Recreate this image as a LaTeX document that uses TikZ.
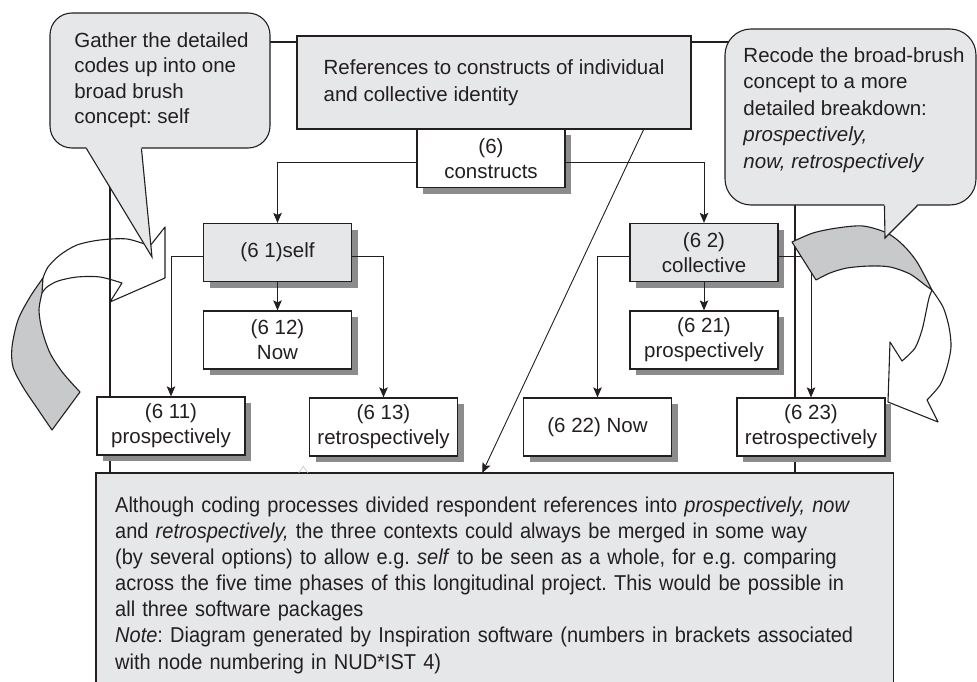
\documentclass[tikz,border=0pt]{standalone}
\usepackage{fontspec}
\setmainfont{Liberation Sans}
\newfontfamily\condsans[FakeStretch=0.93]{Liberation Sans}
\usetikzlibrary{arrows.meta}
\frenchspacing
\definecolor{ink}{HTML}{231F20}
\definecolor{panel}{HTML}{E6E7E8}
\definecolor{ribbon}{HTML}{C8C9CB}
\tikzset{
  txt/.style={font=\fontsize{20.5}{25}\selectfont, text=ink},
  codebox/.style={txt, draw=ink, line width=1.2pt, fill=white, minimum width=148pt,
    minimum height=58pt, inner sep=0pt, align=center},
  graybox/.style={codebox, fill=panel},
  dropfill/.style={fill=black!45},
  link/.style={draw=ink, line width=1pt, -{Stealth[length=10pt,width=8.5pt,inset=2pt]}},
  frameline/.style={draw=ink, line width=1.1pt},
  bubble/.style={draw=ink, line width=1.1pt, fill=panel, inner sep=0pt},
  bubbletext/.style={txt, align=left, inner sep=0pt},
  ribbonback/.style={draw=ink, line width=1.1pt, fill=ribbon, line join=round},
  ribbonfront/.style={draw=ink, line width=1.1pt, line join=round},
}
\begin{document}
\begin{tikzpicture}[x=1pt,y=-1pt]
\clip (0,0) rectangle (977,682);

% frame round the whole tree
\draw[frameline] (110,42) rectangle (795,473);

% cast shadows of the tree boxes (box outline moved 6 right and 6 down)
\foreach \cx/\cy in {491/158.5, 277.5/252.5, 277.5/340, 171/426, 383.5/427, 704/252.5, 704/340, 597.5/427, 811/427}
  \path[dropfill] (\cx-68,\cy-23) rectangle (\cx+80,\cy+35);

% heading box
\node[txt, draw=ink, line width=1.2pt, fill=panel, minimum width=394pt, minimum height=93pt,
  inner sep=0pt, align=left, font=\fontsize{20.5}{27}\selectfont] (main) at (494,82.5)
  {References to constructs of individual\\and collective identity};

% coding tree
\node[codebox] (constructs) at (491,158.5) {(6)\\constructs};
\node[graybox] (self) at (277.5,252.5) {(6 1)self};
\node[codebox] (n612) at (277.5,340) {(6 12)\\Now};
\node[codebox] (n611) at (171,426) {(6 11)\\prospectively};
\node[codebox] (n613) at (383.5,427) {(6 13)\\retrospectively};
\node[graybox] (coll) at (704,252.5) {(6 2)\\collective};
\node[codebox] (n621) at (704,340) {(6 21)\\prospectively};
\node[codebox] (n622) at (597.5,427) {(6 22) Now};
\node[codebox] (n623) at (811,427) {(6 23)\\retrospectively};

\draw[link] ([yshift=-3.5pt]constructs.west) -| (self.north);
\draw[link] ([yshift=-3.5pt]constructs.east) -| (coll.north);
\draw[link] ([yshift=-3.5pt]self.west) -| (n611.north);
\draw[link] ([yshift=-3.5pt]self.east) -| (n613.north);
\draw[link] (self.south) -- (n612.north);
\draw[link] ([yshift=-3.5pt]coll.west) -| (n622.north);
\draw[link] ([yshift=-3.5pt]coll.east) -| (n623.north);
\draw[link] (coll.south) -- (n621.north);

% left curved block arrow (gather up)
\filldraw[ribbonback] plot[smooth] coordinates {(43,278) (30,297) (18,320) (12,347) (13,367) (23,387) (37,408) (52,430)}
  -- (80,392)
  -- plot[smooth] coordinates {(80,392) (63,373) (50,353) (42,330) (39,310) (42,293)} -- cycle;
\draw[ribbonfront] plot[smooth] coordinates {(43,278) (48,267) (60,255) (77,245) (100,240) (127,239) (150,246)}
  -- (165,227) -- (165,278) -- (110,302) -- (122,283)
  -- plot[smooth] coordinates {(122,283) (100,277) (77,277) (58,281) (47,287) (42,293)};

% right curved block arrow (recode)
\filldraw[ribbonback] plot[smooth] coordinates {(792,242) (813,233) (837,228) (863,226) (887,233) (903,245) (917,262) (932,290)}
  -- plot[smooth] coordinates {(932,290) (925,285) (910,274) (890,267) (870,266) (847,268) (830,273) (816,280)} -- cycle;
\draw[ribbonfront] plot[smooth] coordinates {(932,290) (943,307) (949,327) (951,347) (947,367) (940,385) (927,400)}
  -- (938,422) -- (888,402) -- (890,342) -- (902,361)
  -- plot[smooth] coordinates {(902,361) (915,348) (922,330) (926,312) (929,298) (932,290)};

% callout on the left
\node[bubble, rounded corners=22pt, minimum width=220pt, minimum height=135pt] (gatherbox) at (160,80.5) {};
\coordinate (gathertip) at (152,257);
\fill[panel] ([xshift=37pt,yshift=1.5pt]gatherbox.south west) -- (gathertip) -- ([xshift=92pt,yshift=1.5pt]gatherbox.south west) -- cycle;
\draw[ink, line width=1.1pt] ([xshift=37pt]gatherbox.south west) -- (gathertip) -- ([xshift=92pt]gatherbox.south west);
\node[bubbletext, font=\fontsize{20.5}{25.4}\selectfont] (gather) at (161.5,80)
  {Gather the detailed\\codes up into one\\broad brush\\concept: self};

% callout on the right
\node[bubble, rounded corners=26pt, minimum width=251pt, minimum height=176pt] (recodebox) at (850.5,117) {};
\coordinate (recodetip) at (885,238);
\fill[panel] ([xshift=160pt,yshift=1.5pt]recodebox.south west) -- (recodetip) -- ([xshift=193pt,yshift=1.5pt]recodebox.south west) -- cycle;
\draw[ink, line width=1.1pt] ([xshift=160pt]recodebox.south west) -- (recodetip) -- ([xshift=193pt]recodebox.south west);
\node[bubbletext, font=\fontsize{20.5}{26.5}\selectfont] (recode) at (854,110)
  {Recode the broad-brush\\concept to a more\\detailed breakdown:\\\textit{prospectively,}\\\textit{now, retrospectively}};

% explanatory note
\node[fill=panel, anchor=north west, minimum height=224pt, inner xsep=19pt, inner ysep=0pt,
  text width=759pt, align=left, text=ink, font=\condsans\fontsize{21.5}{26.1}\selectfont] (note) at (96,473)
  {Although coding processes divided respondent references into \textit{prospectively, now}\\
   and \textit{retrospectively,} the three contexts could always be merged in some way\\
   (by several options) to allow e.g. \textit{self} to be seen as a whole, for e.g. comparing\\
   across the five time phases of this longitudinal project. This would be possible in\\
   all three software packages\\
   \textit{Note}: Diagram generated by Inspiration software (numbers in brackets associated\\
   with node numbering in NUD*IST 4)};
\draw[frameline] (note.south west) -- (note.north west) -- (note.north east) -- (note.south east);
\draw[black!25, line width=0.6pt] ([xshift=-196pt]note.north) -- ++(4.5pt,6.5pt) -- ++(5pt,-6.5pt);

\draw[link, line width=0.9pt] ([xshift=-48pt]main.south east) -- ([xshift=-12.5pt]note.north);
\end{tikzpicture}
\end{document}
